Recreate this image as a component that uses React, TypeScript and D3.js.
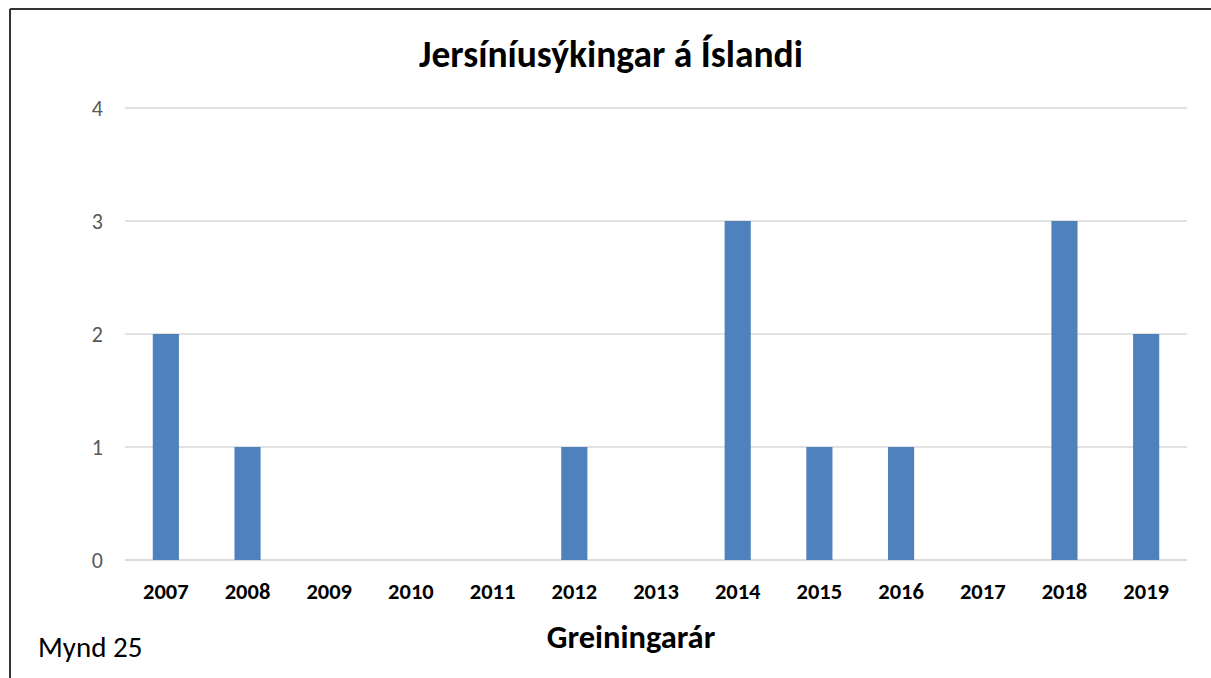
import React from "react";
import * as d3 from "d3";

const years = ["2007","2008","2009","2010","2011","2012","2013","2014","2015","2016","2017","2018","2019"];
const counts = [2,1,0,0,0,1,0,3,1,1,0,3,2];
const yTicks = [0,1,2,3,4];
const title = "Jersíníusýkingar á Íslandi";
const xTitle = "Greiningarár";
const figLabel = "Mynd 25";

const W = 1211, H = 678;
const plot = { left: 125, right: 1187, top: 108, bottom: 560 };
const font = "Calibri, Carlito, 'Open Sans', 'Liberation Sans', sans-serif";

export default function App() {
  const x = d3.scaleBand().domain(years).range([plot.left, plot.right]).paddingInner(0.68).paddingOuter(0.34);
  const y = d3.scaleLinear().domain([0, 4]).range([plot.bottom, plot.top]);
  return (
    <svg width={W} height={H} style={{ position: "absolute", left: 0, top: 0, background: "#fff" }} fontFamily={font}>
      <rect x={0} y={0} width={W} height={H} fill="#fff" />
      <line x1={10} y1={9} x2={W} y2={9} stroke="#333" strokeWidth={2} />
      <line x1={10} y1={9} x2={10} y2={H} stroke="#333" strokeWidth={2} />
      <text x={611} y={67} textAnchor="middle" fontSize={37.5} fontWeight="bold" fill="#000">{title}</text>
      {yTicks.map(t => (
        <g key={t}>
          <line x1={plot.left} x2={plot.right} y1={y(t)} y2={y(t)} stroke={t === 0 ? "#D0D0D0" : "#D9D9D9"} strokeWidth={t === 0 ? 1.5 : 1.3} />
          <text x={103} y={y(t)} dy="0.35em" textAnchor="end" fontSize={22} fill="#595959">{t}</text>
        </g>
      ))}
      {years.map((yr, i) => (
        <g key={yr}>
          {counts[i] > 0 && (
            <rect x={x(yr)} y={y(counts[i])} width={x.bandwidth()} height={y(0) - y(counts[i])} fill="#4F81BD" />
          )}
          <text x={(x(yr) as number) + x.bandwidth() / 2} y={599} textAnchor="middle" fontSize={22.5} fontWeight="bold" fill="#000">{yr}</text>
        </g>
      ))}
      <text x={631} y={648} textAnchor="middle" fontSize={32.5} fontWeight="bold" fill="#000">{xTitle}</text>
      <text x={38} y={657} fontSize={29} fill="#000">{figLabel}</text>
    </svg>
  );
}
